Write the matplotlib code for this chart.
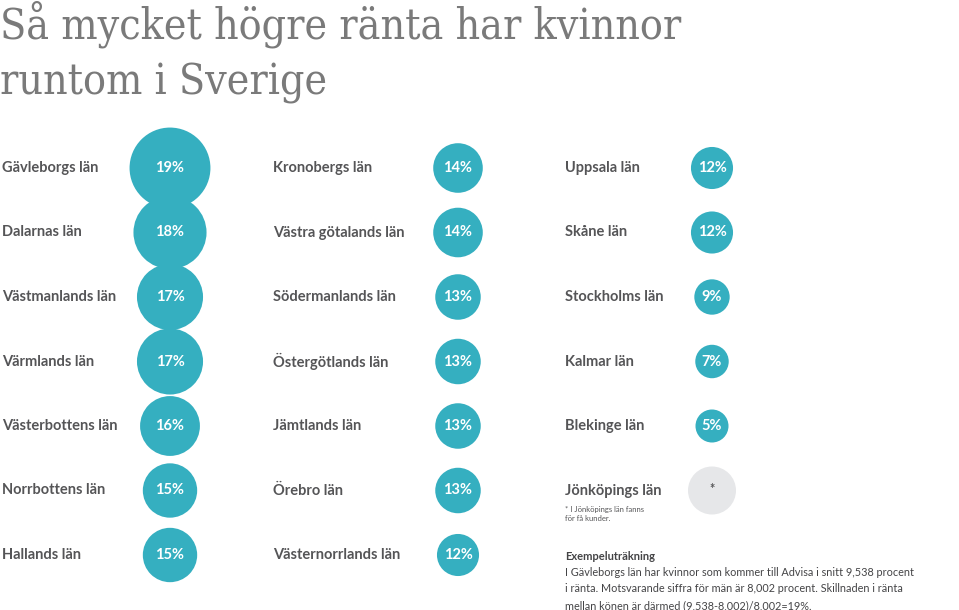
import matplotlib
matplotlib.use('Agg')
import matplotlib.pyplot as plt
from matplotlib.patches import Circle

# data
col1_names = ["Gävleborgs län", "Dalarnas län", "Västmanlands län", "Värmlands län",
              "Västerbottens län", "Norrbottens län", "Hallands län"]
col1_vals = [19, 18, 17, 17, 16, 15, 15]
col2_names = ["Kronobergs län", "Västra götalands län", "Södermanlands län", "Östergötlands län",
              "Jämtlands län", "Örebro län", "Västernorrlands län"]
col2_vals = [14, 14, 13, 13, 13, 13, 12]
col3_names = ["Uppsala län", "Skåne län", "Stockholms län", "Kalmar län",
              "Blekinge län", "Jönköpings län"]
col3_vals = [12, 12, 9, 7, 5, None]

title_lines = ["Så mycket högre ränta har kvinnor", "runtom i Sverige"]
footnote = "* I Jönköpings län fanns\nför få kunder."
example_head = "Exempeluträkning"
example_lines = ["I Gävleborgs län har kvinnor som kommer till Advisa i snitt 9,538 procent",
                 "i ränta. Motsvarande siffra för män är 8,002 procent. Skillnaden i ränta",
                 "mellan könen är därmed (9,538-8,002)/8,002=19%."]

TEAL = '#35afc0'
GREY_TXT = '#555557'
SANS = ['Lato', 'DejaVu Sans']


def diameter(v):
    # circle size grows faster than linear with the value
    return 33 + 0.085 * (v - 5) ** 2.4


fig = plt.figure(figsize=(9.59, 6.10), dpi=100)
ax = fig.add_axes([0, 0, 1, 1])
ax.set_xlim(0, 959)
ax.set_ylim(610, 0)
ax.set_aspect('equal')
ax.axis('off')

for line, yb in zip(title_lines, [38, 95]):
    ax.text(0, yb, line, family=['DejaVu Serif', 'Liberation Serif'],
            fontstretch='condensed', fontweight='light',
            fontsize=30.7, color='#7a7a7a', va='baseline', ha='left')

row_y0, row_dy = 168, 64.5
columns = [(col1_names, col1_vals, 2, 170),
           (col2_names, col2_vals, 273, 458),
           (col3_names, col3_vals, 565, 712)]

for names, vals, lx, cx in columns:
    for i, (name, v) in enumerate(zip(names, vals)):
        y = row_y0 + i * row_dy
        ax.text(lx, y, name, family=SANS, fontweight='bold', fontsize=10.5,
                color=GREY_TXT, va='center', ha='left')
        if v is None:
            ax.add_patch(Circle((cx, y), 24, color='#e6e7e9', lw=0))
            ax.text(cx, y - 2, "*", family=SANS, fontweight='bold', fontsize=9,
                    color=GREY_TXT, ha='center', va='center')
        else:
            ax.add_patch(Circle((cx, y), diameter(v) / 2, color=TEAL, lw=0))
            ax.text(cx, y, f"{v}%", family=SANS, fontweight='bold', fontsize=10.5,
                    color='white', ha='center', va='center')

ax.text(565, 506, footnote, family=SANS, fontsize=5.5, color=GREY_TXT,
        va='top', ha='left', linespacing=1.3)
ax.text(565, 556, example_head, family=SANS, fontweight='bold', fontsize=8,
        color='#444446', va='center', ha='left')
for i, line in enumerate(example_lines):
    ax.text(565, 572 + i * 17, line, family=SANS, fontsize=7.8, color='#444446',
            va='center', ha='left')

fig.savefig('out.png', dpi=100)
